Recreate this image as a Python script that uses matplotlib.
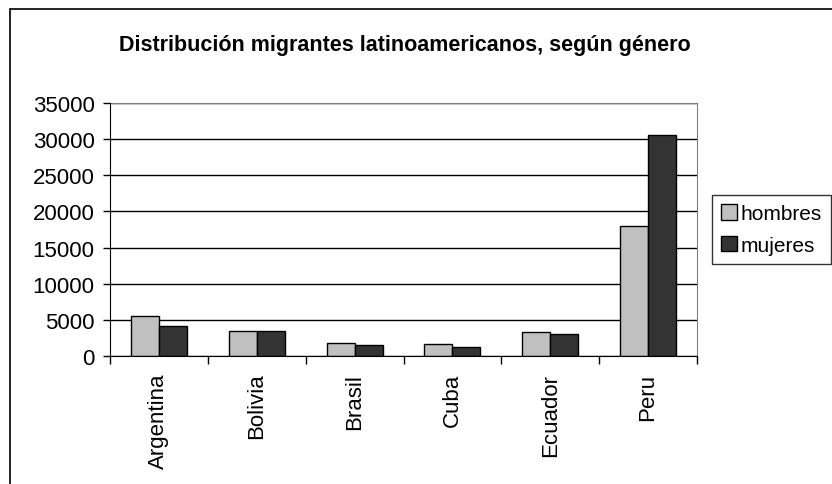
import matplotlib.pyplot as plt
import numpy as np
from matplotlib.patches import Rectangle

plt.rcParams["font.family"] = ["Liberation Sans", "DejaVu Sans"]

paises = ["Argentina", "Bolivia", "Brasil", "Cuba", "Ecuador", "Peru"]
hombres = [5600, 3500, 1750, 1600, 3300, 18000]
mujeres = [4100, 3500, 1550, 1200, 3100, 30600]
yticks = [0, 5000, 10000, 15000, 20000, 25000, 30000, 35000]

W, H = 832, 485
fig = plt.figure(figsize=(W / 100, H / 100), dpi=100)
ax = fig.add_axes([110 / W, 1 - 357 / H, 587 / W, 253 / H])

x = np.arange(len(paises))
bw = 1 / 3.5
ax.bar(x - bw / 2, hombres, bw, color="#C0C0C0", edgecolor="black", linewidth=1,
       label="hombres", zorder=3)
ax.bar(x + bw / 2, mujeres, bw, color="#333333", edgecolor="black", linewidth=1,
       label="mujeres", zorder=3)

ax.set_xlim(-0.5, len(paises) - 0.5)
ax.set_ylim(0, 35000)
ax.set_yticks(yticks)
ax.set_yticklabels([str(v) for v in yticks], fontsize=16)
ax.set_xticks(x)
ax.set_xticklabels(paises, rotation=90, fontsize=16)
ax.set_xticks(np.arange(len(paises) + 1) - 0.5, minor=True)
ax.tick_params(axis="x", which="major", length=0, pad=12)
ax.tick_params(axis="x", which="minor", length=6, width=1, direction="out")
ax.tick_params(axis="y", length=5, width=1, direction="out", pad=6)
ax.yaxis.grid(True, color="black", linewidth=1, zorder=0)
ax.set_axisbelow(True)

for s in ["top", "right"]:
    ax.spines[s].set_color("#808080")
for s in ["left", "bottom"]:
    ax.spines[s].set_color("black")
    ax.spines[s].set_zorder(4)

fig.text(405 / W, 1 - 45 / H, "Distribución migrantes latinoamericanos, según género",
         ha="center", va="center", fontsize=15.5, fontweight="bold")

leg = fig.legend(loc="upper left", bbox_to_anchor=(712 / W, 1 - 196 / H),
                 fontsize=15, frameon=True, fancybox=False, handlelength=0.75,
                 handleheight=0.75, handletextpad=0.15, borderpad=0.45,
                 labelspacing=0.6, borderaxespad=0)
leg.get_frame().set_edgecolor("black")
leg.get_frame().set_linewidth(1)

fig.patches.append(Rectangle((10 / W, -0.05), 1.1, 1 - 10 / H + 0.05,
                             transform=fig.transFigure, fill=False,
                             edgecolor="black", linewidth=1.2))

fig.savefig("out.png", dpi=100)
